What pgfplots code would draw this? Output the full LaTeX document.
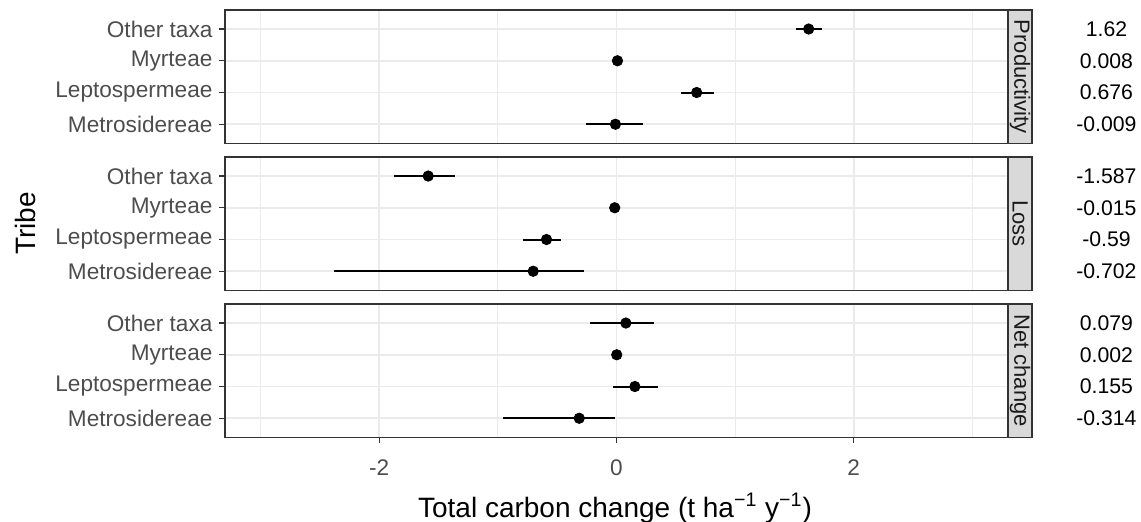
\documentclass[border=0pt]{standalone}
\usepackage{pgfplots}
\pgfplotsset{compat=1.18}
\usepackage{pgfplotstable}
\usepackage{fontspec}
\setmainfont{Liberation Sans}
\definecolor{gray20}{HTML}{333333}
\definecolor{gray30}{HTML}{4D4D4D}
\definecolor{gray10}{HTML}{1A1A1A}
\definecolor{gridc}{HTML}{EBEBEB}
\definecolor{stripc}{HTML}{D9D9D9}

\pgfplotstableread{
y x em ep lx lab
1 1.62 0.11 0.11 4.13 1.62
2 0.008 0 0 4.13 0.008
3 0.676 0.13 0.142 4.13 0.676
4 -0.009 0.246 0.233 4.13 -0.009
}\prodtab
\pgfplotstableread{
y x em ep lx lab
1 -1.587 0.287 0.223 4.13 -1.587
2 -0.015 0 0 4.13 -0.015
3 -0.59 0.194 0.125 4.13 -0.59
4 -0.702 1.681 0.43 4.13 -0.702
}\losstab
\pgfplotstableread{
y x em ep lx lab
1 0.079 0.30 0.24 4.13 0.079
2 0.002 0 0 4.13 0.002
3 0.155 0.185 0.195 4.13 0.155
4 -0.314 0.646 0.304 4.13 -0.314
}\nettab

\newcommand{\fs}{\fontsize{11.3}{13}\selectfont}
\newcommand{\fv}{\fontsize{10.6}{12}\selectfont}
\pgfplotsset{
 panel/.style={
  scale only axis, width=391.5pt, height=66.65pt,
  xmin=-3.3, xmax=3.3, ymin=0.4, ymax=4.6, y dir=reverse,
  xtick={-2,0,2}, minor xtick={-3,-1,1,3},
  ytick={1,2,3,4}, yticklabels={Other taxa,Myrteae,Leptospermeae,Metrosidereae},
  xmajorgrids, xminorgrids, ymajorgrids,
  major grid style={gridc, line width=0.8pt},
  minor grid style={gridc, line width=0.55pt},
  axis line style={gray20, line width=0.65pt},
  tick align=outside, major tick length=2.75pt, minor tick length=0pt,
  tick style={gray20, line width=0.55pt},
  ytick pos=left, xtick pos=bottom,
  ticklabel style={font=\fs, text=gray30},
  xticklabel style={yshift=-4.7pt},
  clip=false,
 },
 pts/.style={black, only marks, mark=*, mark size=2.6pt,
  error bars/.cd, x dir=both, x explicit, error mark=none,
  error bar style={line width=1pt, black}},
 vals/.style={only marks, mark=none, nodes near coords, point meta=explicit symbolic,
  nodes near coords style={anchor=center, font=\fv, text=black}},
}
\newcommand{\strip}[1]{%
  \draw[gray20, line width=0.65pt, fill=stripc] (rel axis cs:1,0) rectangle ([xshift=12pt]rel axis cs:1,1);
  \node[rotate=-90, font=\fontsize{11}{13}\selectfont, text=gray10] at ([xshift=6pt]rel axis cs:1,0.5) {#1};
}

\begin{document}
\begin{tikzpicture}
\useasboundingbox (-112.5pt,0pt) rectangle (458pt,-261pt);

\begin{axis}[panel, at={(0pt,-5pt)}, anchor=north west, xticklabels={}, xtick style={draw=none}]
\addplot[pts] table[x=x, y=y, x error plus=ep, x error minus=em] {\prodtab};
\addplot[vals] table[x=lx, y=y, meta=lab] {\prodtab};
\strip{Productivity}
\end{axis}

\begin{axis}[panel, at={(0pt,-78.5pt)}, anchor=north west, xticklabels={}, xtick style={draw=none}]
\addplot[pts] table[x=x, y=y, x error plus=ep, x error minus=em] {\losstab};
\addplot[vals] table[x=lx, y=y, meta=lab] {\losstab};
\strip{Loss}
\end{axis}

\begin{axis}[panel, at={(0pt,-152pt)}, anchor=north west, xticklabels={-2,0,2}]
\addplot[pts] table[x=x, y=y, x error plus=ep, x error minus=em] {\nettab};
\addplot[vals] table[x=lx, y=y, meta=lab] {\nettab};
\strip{Net change}
\end{axis}

\node[rotate=90, font=\fontsize{14}{16}\selectfont] at (-100pt,-111.75pt) {Tribe};
\node[font=\fontsize{14}{16}\selectfont] at (195pt,-254pt) {Total carbon change (t ha\textsuperscript{−1} y\textsuperscript{−1})};
\end{tikzpicture}
\end{document}
